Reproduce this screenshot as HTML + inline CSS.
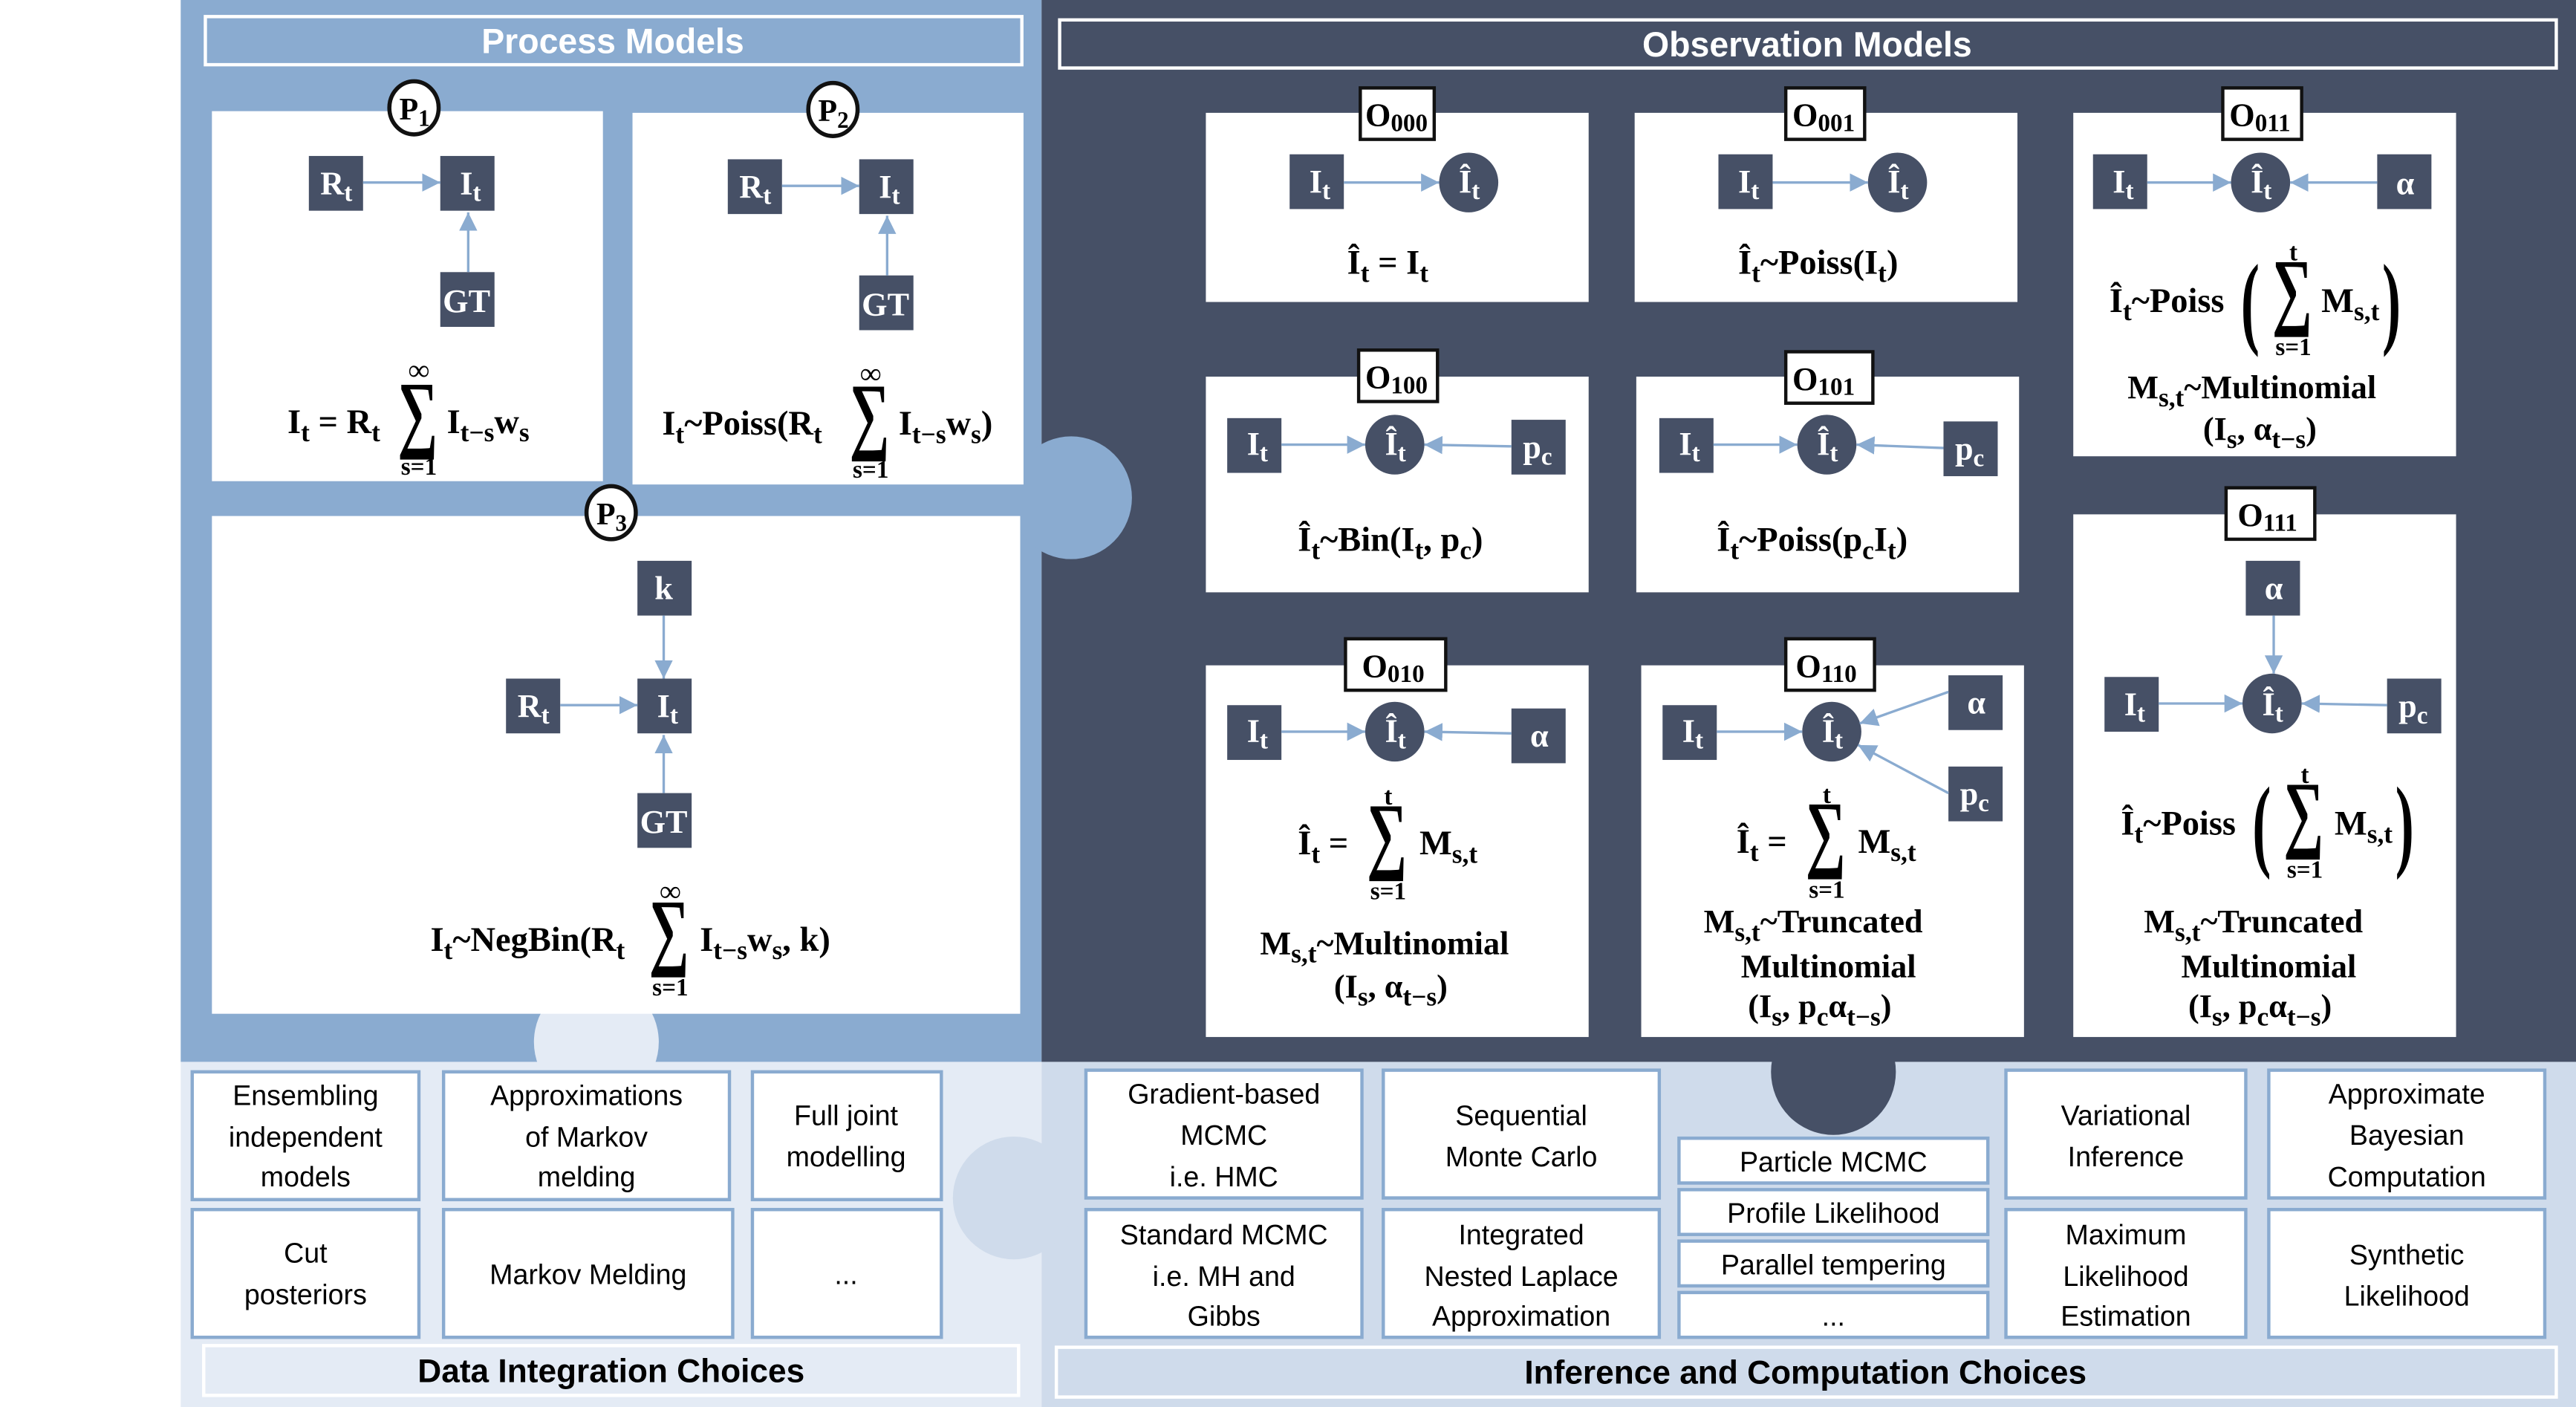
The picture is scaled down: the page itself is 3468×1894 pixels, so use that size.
<!DOCTYPE html>
<html><head><meta charset="utf-8"><style>
html,body{margin:0;padding:0;background:#fff}
svg{display:block}
.f{font-family:"Liberation Serif",serif;font-weight:bold;fill:#000}
.n{font-family:"Liberation Serif",serif;font-weight:bold;fill:#fff;font-size:20px}
.b{font-family:"Liberation Sans",sans-serif;font-size:17px;fill:#000}
.s{font-family:"Liberation Serif",serif;font-weight:bold;fill:#000;font-size:52px}
</style></head><body>
<svg width="3468" height="1894" viewBox="0 0 1568 848" preserveAspectRatio="none" xmlns="http://www.w3.org/2000/svg">
<defs>
<marker id="a" markerUnits="userSpaceOnUse" markerWidth="11" markerHeight="11" refX="11" refY="5.5" orient="auto"><path d="M0,0 L11,5.5 L0,11 z" fill="#8aabd0"/></marker>
</defs>
<rect x="0" y="0" width="1568" height="848" fill="#fff"/>
<rect x="110" y="0" width="524" height="640" fill="#8aabd0"/>
<rect x="634" y="0" width="934" height="640" fill="#465066"/>
<rect x="110" y="640" width="524" height="208" fill="#e4ebf5"/>
<rect x="634" y="640" width="934" height="208" fill="#cfdbeb"/>
<circle cx="652" cy="300" r="37" fill="#8aabd0"/>
<circle cx="363" cy="628" r="38" fill="#e4ebf5"/>
<circle cx="617" cy="722" r="37" fill="#cfdbeb"/>
<circle cx="1116" cy="646" r="38" fill="#465066"/>
<rect x="125" y="10" width="497" height="29" fill="none" stroke="#fff" stroke-width="2"/>
<text x="373" y="32" text-anchor="middle" font-family="Liberation Sans,sans-serif" font-weight="bold" font-size="21" fill="#fff">Process Models</text>
<rect x="645" y="12" width="911" height="29" fill="none" stroke="#fff" stroke-width="2"/>
<text x="1100" y="34" text-anchor="middle" font-family="Liberation Sans,sans-serif" font-weight="bold" font-size="21" fill="#fff">Observation Models</text>

<rect x="129" y="67" width="238" height="223" fill="#fff"/>
<rect x="385" y="68" width="238" height="224" fill="#fff"/>
<rect x="129" y="311" width="492" height="300" fill="#fff"/>
<g fill="#fff" stroke="#111" stroke-width="2.5">
<ellipse cx="252" cy="65" rx="15" ry="16"/><ellipse cx="507" cy="66" rx="15" ry="16"/><ellipse cx="372" cy="309" rx="15" ry="16"/></g>
<text class="f" font-size="19" x="243" y="72">P<tspan font-size="14" dy="4">1</tspan></text>
<text class="f" font-size="19" x="498" y="73">P<tspan font-size="14" dy="4">2</tspan></text>
<text class="f" font-size="19" x="363" y="316">P<tspan font-size="14" dy="4">3</tspan></text>

<g fill="#465066">
<rect x="188" y="94" width="33" height="33"/><rect x="268" y="94" width="33" height="33"/><rect x="268" y="164" width="33" height="33"/>
<rect x="443" y="96" width="33" height="33"/><rect x="523" y="96" width="33" height="33"/><rect x="523" y="166" width="33" height="33"/>
<rect x="388" y="338" width="33" height="33"/><rect x="308" y="409" width="33" height="33"/><rect x="388" y="409" width="33" height="33"/><rect x="388" y="478" width="33" height="33"/>
</g>
<text class="n" x="195" y="117">R<tspan font-size="15" dy="4">t</tspan></text>
<text class="n" x="280" y="117">I<tspan font-size="15" dy="4">t</tspan></text>
<text class="n" x="284" y="188" text-anchor="middle">GT</text>
<text class="n" x="450" y="119">R<tspan font-size="15" dy="4">t</tspan></text>
<text class="n" x="535" y="119">I<tspan font-size="15" dy="4">t</tspan></text>
<text class="n" x="539" y="190" text-anchor="middle">GT</text>
<text class="n" x="404" y="361" text-anchor="middle">k</text>
<text class="n" x="315" y="432">R<tspan font-size="15" dy="4">t</tspan></text>
<text class="n" x="400" y="432">I<tspan font-size="15" dy="4">t</tspan></text>
<text class="n" x="404" y="502" text-anchor="middle">GT</text>

<g stroke="#8aabd0" stroke-width="1.5" marker-end="url(#a)">
<line x1="221" y1="110" x2="268" y2="110"/><line x1="285" y1="164" x2="285" y2="128"/>
<line x1="476" y1="112" x2="523" y2="112"/><line x1="540" y1="166" x2="540" y2="130"/>
<line x1="404" y1="371" x2="404" y2="409"/><line x1="341" y1="425" x2="388" y2="425"/><line x1="404" y1="478" x2="404" y2="443"/>
</g>

<text class="f" font-size="21" x="175" y="261">I<tspan font-size="16" dy="5">t</tspan><tspan dy="-5"> = R</tspan><tspan font-size="16" dy="5">t</tspan></text>
<text class="s" transform="translate(242 266) scale(0.66 1)">∑</text>
<text class="f" font-size="18" x="255" y="229" text-anchor="middle">∞</text>
<text class="f" font-size="15" x="255" y="286" text-anchor="middle">s=1</text>
<text class="f" font-size="21" x="272" y="261">I<tspan font-size="16" dy="5">t−s</tspan><tspan dy="-5">w</tspan><tspan font-size="16" dy="5">s</tspan></text>

<text class="f" font-size="21" x="403" y="262">I<tspan font-size="16" dy="5">t</tspan><tspan dy="-5">~Poiss(R</tspan><tspan font-size="16" dy="5">t</tspan></text>
<text class="s" transform="translate(517 267) scale(0.66 1)">∑</text>
<text class="f" font-size="18" x="530" y="231" text-anchor="middle">∞</text>
<text class="f" font-size="15" x="530" y="288" text-anchor="middle">s=1</text>
<text class="f" font-size="21" x="547" y="262">I<tspan font-size="16" dy="5">t−s</tspan><tspan dy="-5">w</tspan><tspan font-size="16" dy="5">s</tspan><tspan dy="-5">)</tspan></text>

<text class="f" font-size="21" x="262" y="573">I<tspan font-size="16" dy="5">t</tspan><tspan dy="-5">~NegBin(R</tspan><tspan font-size="16" dy="5">t</tspan></text>
<text class="s" transform="translate(395 578) scale(0.66 1)">∑</text>
<text class="f" font-size="18" x="408" y="543" text-anchor="middle">∞</text>
<text class="f" font-size="15" x="408" y="600" text-anchor="middle">s=1</text>
<text class="f" font-size="21" x="426" y="573">I<tspan font-size="16" dy="5">t−s</tspan><tspan dy="-5">w</tspan><tspan font-size="16" dy="5">s</tspan><tspan dy="-5">, k)</tspan></text>

<g fill="#fff">
<rect x="734" y="68" width="233" height="114"/><rect x="995" y="68" width="233" height="114"/><rect x="1262" y="68" width="233" height="207"/>
<rect x="734" y="227" width="233" height="130"/><rect x="996" y="227" width="233" height="130"/>
<rect x="734" y="401" width="233" height="224"/><rect x="999" y="401" width="233" height="224"/><rect x="1262" y="310" width="233" height="315"/>
</g>
<g fill="#fff" stroke="#111" stroke-width="2">
<rect x="828" y="53" width="45" height="31"/><rect x="1087" y="53" width="48" height="31"/><rect x="1353" y="53" width="48" height="31"/>
<rect x="827" y="211" width="48" height="31"/><rect x="1087" y="212" width="53" height="31"/>
<rect x="819" y="385" width="61" height="31"/><rect x="1087" y="385" width="54" height="31"/><rect x="1355" y="294" width="54" height="31"/>
</g>
<g class="f" font-size="20">
<text x="831" y="76">O<tspan font-size="15" dy="3">000</tspan></text>
<text x="1091" y="76">O<tspan font-size="15" dy="3">001</tspan></text>
<text x="1357" y="76">O<tspan font-size="15" dy="3">011</tspan></text>
<text x="831" y="234">O<tspan font-size="15" dy="3">100</tspan></text>
<text x="1091" y="235">O<tspan font-size="15" dy="3">101</tspan></text>
<text x="829" y="408">O<tspan font-size="15" dy="3">010</tspan></text>
<text x="1093" y="408">O<tspan font-size="15" dy="3">110</tspan></text>
<text x="1362" y="317">O<tspan font-size="15" dy="3">111</tspan></text>
</g>

<g fill="#465066">
<rect x="785" y="93" width="33" height="33"/><circle cx="894" cy="110" r="18"/>
<rect x="1046" y="93" width="33" height="33"/><circle cx="1155" cy="110" r="18"/>
<rect x="1274" y="93" width="33" height="33"/><circle cx="1376" cy="110" r="18"/><rect x="1447" y="93" width="33" height="33"/>
<rect x="747" y="252" width="33" height="33"/><circle cx="849" cy="268" r="18"/><rect x="920" y="253" width="33" height="33"/>
<rect x="1010" y="252" width="33" height="33"/><circle cx="1112" cy="268" r="18"/><rect x="1183" y="254" width="33" height="33"/>
<rect x="747" y="425" width="33" height="33"/><circle cx="849" cy="441" r="18"/><rect x="920" y="427" width="33" height="33"/>
<rect x="1012" y="425" width="33" height="33"/><circle cx="1115" cy="441" r="18"/><rect x="1186" y="407" width="33" height="33"/><rect x="1186" y="462" width="33" height="33"/>
<rect x="1367" y="338" width="33" height="33"/><rect x="1281" y="408" width="33" height="33"/><circle cx="1383" cy="424" r="18"/><rect x="1453" y="409" width="33" height="33"/>
</g>
<g class="n">
<text x="797" y="116">I<tspan font-size="15" dy="4">t</tspan></text><text x="888" y="116">Î<tspan font-size="15" dy="4">t</tspan></text>
<text x="1058" y="116">I<tspan font-size="15" dy="4">t</tspan></text><text x="1149" y="116">Î<tspan font-size="15" dy="4">t</tspan></text>
<text x="1286" y="116">I<tspan font-size="15" dy="4">t</tspan></text><text x="1370" y="116">Î<tspan font-size="15" dy="4">t</tspan></text><text x="1464" y="117" text-anchor="middle">α</text>
<text x="759" y="274">I<tspan font-size="15" dy="4">t</tspan></text><text x="843" y="274">Î<tspan font-size="15" dy="4">t</tspan></text><text x="927" y="276">p<tspan font-size="15" dy="4">c</tspan></text>
<text x="1022" y="274">I<tspan font-size="15" dy="4">t</tspan></text><text x="1106" y="274">Î<tspan font-size="15" dy="4">t</tspan></text><text x="1190" y="277">p<tspan font-size="15" dy="4">c</tspan></text>
<text x="759" y="447">I<tspan font-size="15" dy="4">t</tspan></text><text x="843" y="447">Î<tspan font-size="15" dy="4">t</tspan></text><text x="937" y="450" text-anchor="middle">α</text>
<text x="1024" y="447">I<tspan font-size="15" dy="4">t</tspan></text><text x="1109" y="447">Î<tspan font-size="15" dy="4">t</tspan></text><text x="1203" y="430" text-anchor="middle">α</text><text x="1193" y="485">p<tspan font-size="15" dy="4">c</tspan></text>
<text x="1384" y="361" text-anchor="middle">α</text><text x="1293" y="431">I<tspan font-size="15" dy="4">t</tspan></text><text x="1377" y="431">Î<tspan font-size="15" dy="4">t</tspan></text><text x="1460" y="432">p<tspan font-size="15" dy="4">c</tspan></text>
</g>
<g stroke="#8aabd0" stroke-width="1.5" marker-end="url(#a)">
<line x1="818" y1="110" x2="876" y2="110"/>
<line x1="1079" y1="110" x2="1137" y2="110"/>
<line x1="1307" y1="110" x2="1358" y2="110"/><line x1="1447" y1="110" x2="1394" y2="110"/>
<line x1="780" y1="268" x2="831" y2="268"/><line x1="920" y1="269" x2="867" y2="268"/>
<line x1="1043" y1="268" x2="1094" y2="268"/><line x1="1183" y1="270" x2="1130" y2="268"/>
<line x1="780" y1="441" x2="831" y2="441"/><line x1="920" y1="442" x2="867" y2="441"/>
<line x1="1045" y1="441" x2="1097" y2="441"/><line x1="1186" y1="417" x2="1132" y2="436"/><line x1="1186" y1="478" x2="1131" y2="449"/>
<line x1="1384" y1="371" x2="1384" y2="406"/><line x1="1314" y1="424" x2="1365" y2="424"/><line x1="1453" y1="425" x2="1401" y2="424"/>
</g>

<text class="f" font-size="21" x="820" y="165">Î<tspan font-size="16" dy="5">t</tspan><tspan dy="-5"> = I</tspan><tspan font-size="16" dy="5">t</tspan></text>
<text class="f" font-size="21" x="1058" y="165">Î<tspan font-size="16" dy="5">t</tspan><tspan dy="-5">~Poiss(I</tspan><tspan font-size="16" dy="5">t</tspan><tspan dy="-5">)</tspan></text>

<text class="f" font-size="21" x="1284" y="188">Î<tspan font-size="16" dy="5">t</tspan><tspan dy="-5">~Poiss</tspan></text>
<text class="f" font-size="62" transform="translate(1364 202) scale(0.55 1)">(</text>
<text class="s" transform="translate(1383 192) scale(0.66 1)">∑</text>
<text class="f" font-size="15" x="1396" y="157" text-anchor="middle">t</text>
<text class="f" font-size="15" x="1396" y="214" text-anchor="middle">s=1</text>
<text class="f" font-size="21" x="1413" y="188">M<tspan font-size="16" dy="5">s,t</tspan></text>
<text class="f" font-size="62" transform="translate(1450 202) scale(0.55 1)">)</text>
<text class="f" font-size="20" x="1295" y="240">M<tspan font-size="16" dy="5">s,t</tspan><tspan dy="-5">~Multinomial</tspan></text>
<text class="f" font-size="20" x="1341" y="265">(I<tspan font-size="16" dy="5">s</tspan><tspan dy="-5">, α</tspan><tspan font-size="16" dy="5">t−s</tspan><tspan dy="-5">)</tspan></text>

<text class="f" font-size="21" x="790" y="332">Î<tspan font-size="16" dy="5">t</tspan><tspan dy="-5">~Bin(I</tspan><tspan font-size="16" dy="5">t</tspan><tspan dy="-5">, p</tspan><tspan font-size="16" dy="5">c</tspan><tspan dy="-5">)</tspan></text>
<text class="f" font-size="21" x="1045" y="332">Î<tspan font-size="16" dy="5">t</tspan><tspan dy="-5">~Poiss(p</tspan><tspan font-size="16" dy="5">c</tspan><tspan dy="-5">I</tspan><tspan font-size="16" dy="5">t</tspan><tspan dy="-5">)</tspan></text>

<text class="f" font-size="21" x="790" y="515">Î<tspan font-size="16" dy="5">t</tspan><tspan dy="-5"> =</tspan></text>
<text class="s" transform="translate(832 520) scale(0.66 1)">∑</text>
<text class="f" font-size="15" x="845" y="485" text-anchor="middle">t</text>
<text class="f" font-size="15" x="845" y="542" text-anchor="middle">s=1</text>
<text class="f" font-size="21" x="864" y="515">M<tspan font-size="16" dy="5">s,t</tspan></text>
<text class="f" font-size="20" x="767" y="575">M<tspan font-size="16" dy="5">s,t</tspan><tspan dy="-5">~Multinomial</tspan></text>
<text class="f" font-size="20" x="812" y="601">(I<tspan font-size="16" dy="5">s</tspan><tspan dy="-5">, α</tspan><tspan font-size="16" dy="5">t−s</tspan><tspan dy="-5">)</tspan></text>

<text class="f" font-size="21" x="1057" y="514">Î<tspan font-size="16" dy="5">t</tspan><tspan dy="-5"> =</tspan></text>
<text class="s" transform="translate(1099 519) scale(0.66 1)">∑</text>
<text class="f" font-size="15" x="1112" y="484" text-anchor="middle">t</text>
<text class="f" font-size="15" x="1112" y="541" text-anchor="middle">s=1</text>
<text class="f" font-size="21" x="1131" y="514">M<tspan font-size="16" dy="5">s,t</tspan></text>
<text class="f" font-size="20" x="1037" y="562">M<tspan font-size="16" dy="5">s,t</tspan><tspan dy="-5">~Truncated</tspan></text>
<text class="f" font-size="20" x="1113" y="589" text-anchor="middle">Multinomial</text>
<text class="f" font-size="20" x="1064" y="613">(I<tspan font-size="16" dy="5">s</tspan><tspan dy="-5">, p</tspan><tspan font-size="16" dy="5">c</tspan><tspan dy="-5">α</tspan><tspan font-size="16" dy="5">t−s</tspan><tspan dy="-5">)</tspan></text>

<text class="f" font-size="21" x="1291" y="503">Î<tspan font-size="16" dy="5">t</tspan><tspan dy="-5">~Poiss</tspan></text>
<text class="f" font-size="62" transform="translate(1371 517) scale(0.55 1)">(</text>
<text class="s" transform="translate(1390 507) scale(0.66 1)">∑</text>
<text class="f" font-size="15" x="1403" y="472" text-anchor="middle">t</text>
<text class="f" font-size="15" x="1403" y="529" text-anchor="middle">s=1</text>
<text class="f" font-size="21" x="1421" y="503">M<tspan font-size="16" dy="5">s,t</tspan></text>
<text class="f" font-size="62" transform="translate(1458 517) scale(0.55 1)">)</text>
<text class="f" font-size="20" x="1305" y="562">M<tspan font-size="16" dy="5">s,t</tspan><tspan dy="-5">~Truncated</tspan></text>
<text class="f" font-size="20" x="1381" y="589" text-anchor="middle">Multinomial</text>
<text class="f" font-size="20" x="1332" y="613">(I<tspan font-size="16" dy="5">s</tspan><tspan dy="-5">, p</tspan><tspan font-size="16" dy="5">c</tspan><tspan dy="-5">α</tspan><tspan font-size="16" dy="5">t−s</tspan><tspan dy="-5">)</tspan></text>

<g fill="#fff" stroke="#8aabd0" stroke-width="2">
<rect x="117" y="646" width="138" height="77"/><rect x="270" y="646" width="174" height="77"/><rect x="458" y="646" width="115" height="77"/>
<rect x="117" y="729" width="138" height="77"/><rect x="270" y="729" width="176" height="77"/><rect x="458" y="729" width="115" height="77"/>
<rect x="661" y="645" width="168" height="77"/><rect x="842" y="645" width="168" height="77"/><rect x="1221" y="645" width="146" height="77"/><rect x="1381" y="645" width="168" height="77"/>
<rect x="661" y="729" width="168" height="77"/><rect x="842" y="729" width="168" height="77"/><rect x="1221" y="729" width="146" height="77"/><rect x="1381" y="729" width="168" height="77"/>
<rect x="1022" y="686" width="188" height="27"/><rect x="1022" y="717" width="188" height="27"/><rect x="1022" y="748" width="188" height="27"/><rect x="1022" y="779" width="188" height="27"/>
</g>
<g class="b" text-anchor="middle">
<text x="186" y="666">Ensembling</text><text x="186" y="691">independent</text><text x="186" y="715">models</text>
<text x="357" y="666">Approximations</text><text x="357" y="691">of Markov</text><text x="357" y="715">melding</text>
<text x="515" y="678">Full joint</text><text x="515" y="703">modelling</text>
<text x="186" y="761">Cut</text><text x="186" y="786">posteriors</text>
<text x="358" y="774">Markov Melding</text>
<text x="515" y="774">...</text>
<text x="745" y="665">Gradient-based</text><text x="745" y="690">MCMC</text><text x="745" y="715">i.e. HMC</text>
<text x="926" y="678">Sequential</text><text x="926" y="703">Monte Carlo</text>
<text x="1294" y="678">Variational</text><text x="1294" y="703">Inference</text>
<text x="1465" y="665">Approximate</text><text x="1465" y="690">Bayesian</text><text x="1465" y="715">Computation</text>
<text x="745" y="750">Standard MCMC</text><text x="745" y="775">i.e. MH and</text><text x="745" y="799">Gibbs</text>
<text x="926" y="750">Integrated</text><text x="926" y="775">Nested Laplace</text><text x="926" y="799">Approximation</text>
<text x="1294" y="750">Maximum</text><text x="1294" y="775">Likelihood</text><text x="1294" y="799">Estimation</text>
<text x="1465" y="762">Synthetic</text><text x="1465" y="787">Likelihood</text>
<text x="1116" y="706">Particle MCMC</text><text x="1116" y="737">Profile Likelihood</text><text x="1116" y="768">Parallel tempering</text><text x="1116" y="799">...</text>
</g>
<rect x="124" y="811" width="496" height="30" fill="#e4ebf5" stroke="#fff" stroke-width="2"/>
<text x="372" y="833" text-anchor="middle" font-family="Liberation Sans,sans-serif" font-weight="bold" font-size="20">Data Integration Choices</text>
<rect x="643" y="812" width="913" height="30" fill="#cfdbeb" stroke="#fff" stroke-width="2"/>
<text x="1099" y="834" text-anchor="middle" font-family="Liberation Sans,sans-serif" font-weight="bold" font-size="20">Inference and Computation Choices</text>
</svg>
</body></html>
